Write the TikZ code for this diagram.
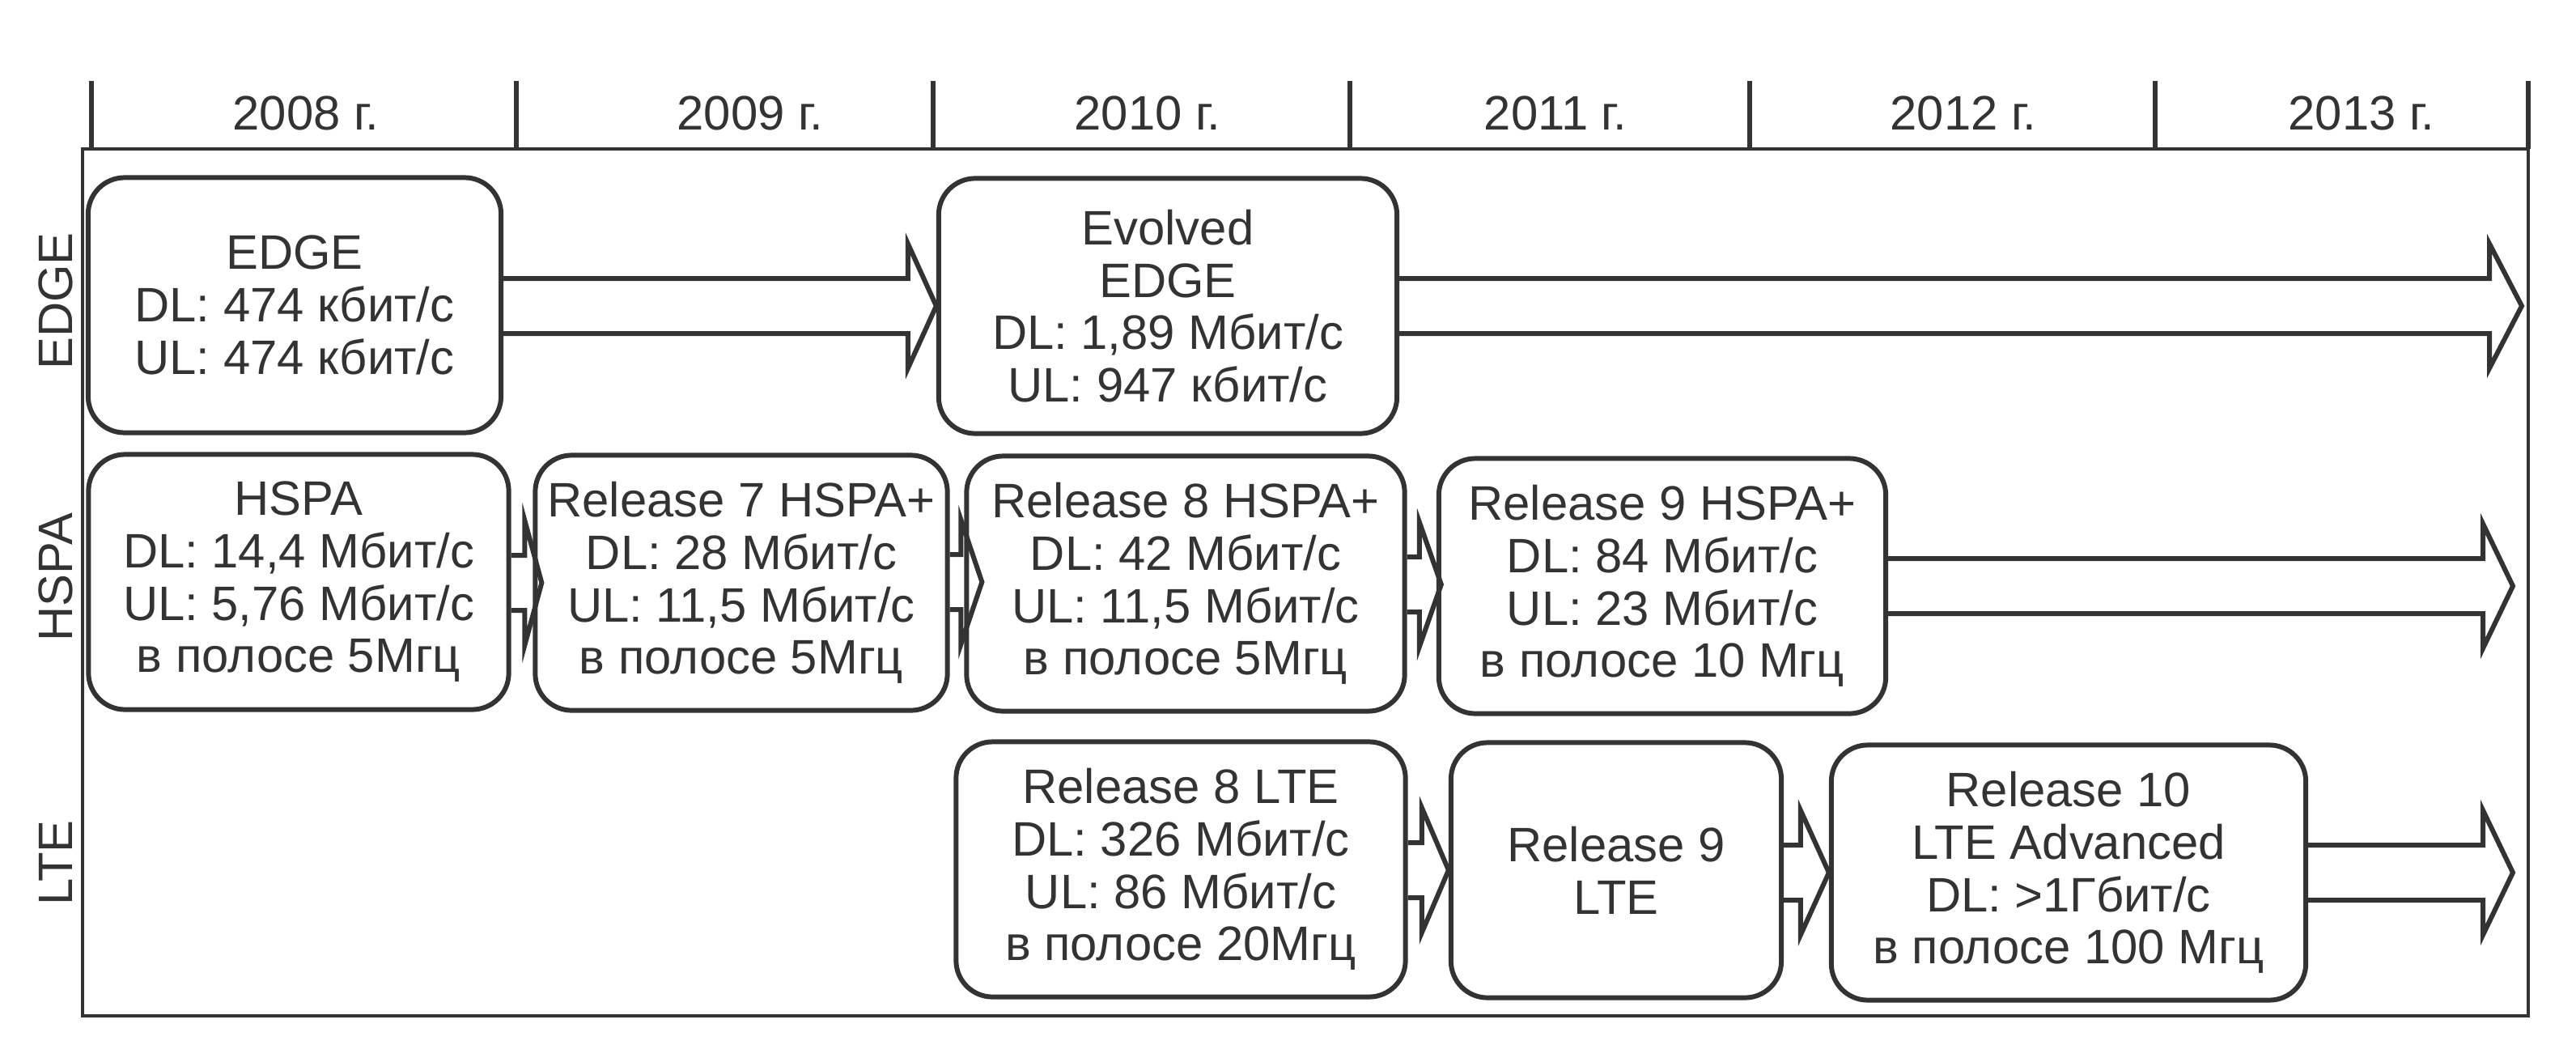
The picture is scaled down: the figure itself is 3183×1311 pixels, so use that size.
\documentclass[tikz,border=0pt]{standalone}
\usepackage{fontspec}
\setmainfont{Liberation Sans}
\usetikzlibrary{calc}
\definecolor{ink}{HTML}{333333}
\newcommand{\barrow}[3]{%
  \path (#2) ++(-#3,-34) coordinate (bA) ++(0,-43) coordinate (bB);
  \path (#2) ++(-#3,34) coordinate (bC) ++(0,43) coordinate (bD);
  \draw[arrowline] (#1 |- bA) -- (bA) -- (bB) -- (#2) -- (bD) -- (bC) -- (#1 |- bC);
}
\begin{document}
\begin{tikzpicture}[x=0.01cm,y=-0.01cm,
  txt/.style={font=\fontsize{17}{18.4}\selectfont, text=ink, inner sep=0pt},
  box/.style={txt, draw=ink, line width=1.7pt, rounded corners=0.45cm, align=center, minimum height=3.15cm},
  arrowline/.style={draw=ink, line width=1.7pt, line join=miter},
  frameline/.style={draw=ink, line width=1.3pt},
  tickline/.style={draw=ink, line width=1.5pt}]
\useasboundingbox (0,0) rectangle (3183,1311);
% frame and ticks
\draw[frameline] (102,184) rectangle (3124,1255);
\foreach \tx in {113,638,1153,1668,2162,2663,3124}
  \draw[tickline] (\tx,100) -- (\tx,184);
% years
\node[txt] (y2008) at (378,140) {2008 г.};
\node[txt] (y2009) at (927,140) {2009 г.};
\node[txt] (y2010) at (1418,140) {2010 г.};
\node[txt] (y2011) at (1922,140) {2011 г.};
\node[txt] (y2012) at (2426,140) {2012 г.};
\node[txt] (y2013) at (2918,140) {2013 г.};
% row labels
\node[txt, rotate=90] (ledge) at (69,372) {EDGE};
\node[txt, rotate=90] (lhspa) at (69,713) {HSPA};
\node[txt, rotate=90] (llte) at (69,1066) {LTE};
% boxes
\node[box, minimum width=5.10cm] (edge) at (364,377) {EDGE\\DL: 474 кбит/с\\UL: 474 кбит/с};
\node[box, minimum width=5.66cm] (evedge) at (1443,378) {Evolved\\EDGE\\DL: 1,89 Мбит/с\\UL: 947 кбит/с};
\node[box, minimum width=5.19cm] (hspa) at (369,719) {HSPA\\DL: 14,4 Мбит/с\\UL: 5,76 Мбит/с\\в полосе 5Мгц};
\node[box, minimum width=5.09cm] (r7) at (916,720) {Release 7 HSPA+\\DL: 28 Мбит/с\\UL: 11,5 Мбит/с\\в полосе 5Мгц};
\node[box, minimum width=5.41cm] (r8) at (1465,721) {Release 8 HSPA+\\DL: 42 Мбит/с\\UL: 11,5 Мбит/с\\в полосе 5Мгц};
\node[box, minimum width=5.52cm] (r9) at (2054,724) {Release 9 HSPA+\\DL: 84 Мбит/с\\UL: 23 Мбит/с\\в полосе 10 Мгц};
\node[box, minimum width=5.55cm] (r8lte) at (1459,1074) {Release 8 LTE\\DL: 326 Мбит/с\\UL: 86 Мбит/с\\в полосе 20Мгц};
\node[box, minimum width=4.08cm] (r9lte) at (1997,1075) {Release 9\\LTE};
\node[box, minimum width=5.86cm] (r10) at (2556,1078) {Release 10\\LTE Advanced\\DL: >1Гбит/с\\в полосе 100 Мгц};
% arrow tips
\coordinate (t1) at (evedge.west);
\coordinate (t2) at ($(r7.west)+(11,0)$);
\coordinate (t3) at ($(r8.west)+(22,-2)$);
\coordinate (t4) at ($(r9.west)+(6,-2)$);
\coordinate (t5) at (r9lte.west);
\coordinate (t6) at (r10.west);
\coordinate (e1) at (3116,378);
\coordinate (e2) at (3105,724);
\coordinate (e3) at (3105,1078);
% arrows
\barrow{edge.east}{t1}{35}
\barrow{evedge.east}{e1}{40}
\barrow{hspa.east}{t2}{21}
\barrow{r7.east}{t3}{26}
\barrow{r8.east}{t4}{27}
\barrow{r9.east}{e2}{37}
\barrow{r8lte.east}{t5}{33}
\barrow{r9lte.east}{t6}{35}
\barrow{r10.east}{e3}{37}
\end{tikzpicture}
\end{document}
